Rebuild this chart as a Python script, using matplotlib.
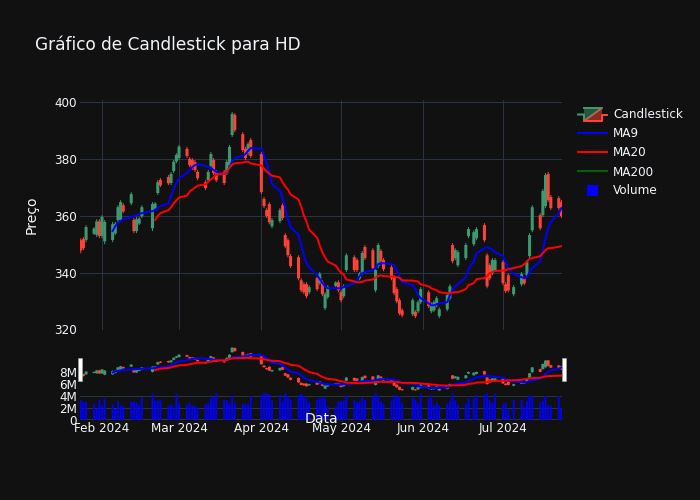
"""
Candlestick chart for HD with MA9 / MA20, volume panel and range slider strip.
"""

import pandas as pd
import matplotlib

matplotlib.use("Agg")
import matplotlib.pyplot as plt
from matplotlib.patches import Polygon, Rectangle


# ---------------------------------------------------------
# Data
# ---------------------------------------------------------
DATES = [
    "2024-01-24", "2024-01-25", "2024-01-26", "2024-01-29", "2024-01-30", "2024-01-31",
    "2024-02-01", "2024-02-02", "2024-02-05", "2024-02-06", "2024-02-07", "2024-02-08", "2024-02-09",
    "2024-02-12", "2024-02-13", "2024-02-14", "2024-02-15", "2024-02-16",
    "2024-02-20", "2024-02-21", "2024-02-22", "2024-02-23",
    "2024-02-26", "2024-02-27", "2024-02-28", "2024-02-29", "2024-03-01",
    "2024-03-04", "2024-03-05", "2024-03-06", "2024-03-07", "2024-03-08",
    "2024-03-11", "2024-03-12", "2024-03-13", "2024-03-14", "2024-03-15",
    "2024-03-18", "2024-03-19", "2024-03-20", "2024-03-21", "2024-03-22",
    "2024-03-25", "2024-03-26", "2024-03-27", "2024-03-28",
    "2024-04-01", "2024-04-02", "2024-04-03", "2024-04-04", "2024-04-05",
    "2024-04-08", "2024-04-09", "2024-04-10", "2024-04-11", "2024-04-12",
    "2024-04-15", "2024-04-16", "2024-04-17", "2024-04-18", "2024-04-19",
    "2024-04-22", "2024-04-23", "2024-04-24", "2024-04-25", "2024-04-26",
    "2024-04-29", "2024-04-30", "2024-05-01", "2024-05-02", "2024-05-03",
    "2024-05-06", "2024-05-07", "2024-05-08", "2024-05-09", "2024-05-10",
    "2024-05-13", "2024-05-14", "2024-05-15", "2024-05-16", "2024-05-17",
    "2024-05-20", "2024-05-21", "2024-05-22", "2024-05-23", "2024-05-24",
    "2024-05-28", "2024-05-29", "2024-05-30", "2024-05-31",
    "2024-06-03", "2024-06-04", "2024-06-05", "2024-06-06", "2024-06-07",
    "2024-06-10", "2024-06-11", "2024-06-12", "2024-06-13", "2024-06-14",
    "2024-06-17", "2024-06-18", "2024-06-20", "2024-06-21",
    "2024-06-24", "2024-06-25", "2024-06-26", "2024-06-27", "2024-06-28",
    "2024-07-01", "2024-07-02", "2024-07-03", "2024-07-05",
    "2024-07-08", "2024-07-09", "2024-07-10", "2024-07-11", "2024-07-12",
    "2024-07-15", "2024-07-16", "2024-07-17", "2024-07-18", "2024-07-19",
    "2024-07-22", "2024-07-23",
]

HIGHS = [
    352.1, 352.5, 356.7, 356.0, 358.8, 358.8, 360.2, 358.5, 357.8, 357.8, 363.7, 365.5, 364.4,
    368.3, 359.2, 359.5, 359.5, 363.7, 364.8, 364.8, 372.5, 373.2, 374.3, 375.4, 379.6, 382.0,
    384.9, 384.2, 380.6, 380.3, 379.6, 376.1, 372.5, 376.1, 382.4, 380.3, 376.1, 376.1, 379.6,
    384.9, 396.5, 396.1, 389.4, 384.2, 385.9, 387.3, 382.4, 366.6, 362.7, 364.8, 359.2, 362.7,
    364.4, 353.9, 352.1, 346.5, 346.1, 338.0, 336.6, 336.6, 335.6, 338.8, 340.2, 337.3, 333.1,
    335.6, 337.0, 337.3, 333.8, 335.9, 346.8, 346.1, 345.1, 340.2, 347.6, 349.7, 348.6, 341.6,
    350.4, 348.3, 345.1, 342.6, 339.1, 334.9, 331.0, 327.5, 331.0, 326.8, 330.3, 334.9, 333.8,
    329.6, 330.3, 331.7, 327.8, 332.8, 335.9, 350.4, 348.6, 347.9, 350.4, 356.0, 354.9, 356.0,
    357.4, 346.8, 343.3, 345.1, 345.1, 344.4, 336.6, 339.8, 335.6, 340.2, 338.4, 344.4, 353.9,
    363.7, 360.9, 369.4, 375.0, 375.4, 367.3, 366.9, 365.5,
]
LOWS = [
    346.8, 347.9, 350.7, 353.2, 352.5, 352.1, 352.1, 350.0, 350.7, 353.2, 357.8, 357.8, 360.9,
    363.7, 353.9, 353.9, 356.7, 359.2, 354.6, 362.0, 367.3, 370.1, 370.8, 370.8, 375.0, 378.5,
    379.6, 380.3, 377.1, 376.1, 375.4, 372.5, 369.0, 371.8, 376.8, 374.3, 371.8, 370.8, 374.3,
    377.1, 387.7, 389.4, 382.4, 379.6, 381.3, 380.3, 367.6, 362.7, 359.2, 357.0, 355.6, 357.4,
    358.5, 348.6, 345.4, 341.6, 337.3, 333.1, 332.4, 331.0, 332.4, 333.5, 335.6, 331.7, 326.8,
    330.7, 334.9, 333.1, 329.6, 331.0, 340.2, 340.2, 340.2, 337.3, 339.1, 344.4, 340.9, 333.1,
    341.6, 343.3, 340.5, 337.3, 332.1, 329.2, 325.0, 324.3, 324.7, 324.0, 325.7, 328.9, 327.5,
    325.7, 326.1, 327.8, 324.0, 326.4, 330.3, 343.3, 344.4, 341.9, 344.4, 352.1, 349.3, 351.4,
    350.7, 334.5, 337.3, 339.1, 340.2, 335.6, 332.8, 333.1, 331.7, 335.2, 335.6, 338.4, 345.1,
    354.2, 354.9, 359.5, 362.7, 364.8, 362.0, 362.0, 359.2,
]
OPENS = [
    351.4, 351.8, 351.5, 353.7, 353.3, 358.0, 352.9, 351.0, 351.5, 353.8, 358.5, 358.5, 363.7,
    364.4, 358.5, 354.6, 357.2, 359.8, 355.6, 362.5, 368.0, 372.6, 373.6, 371.5, 375.7, 379.1,
    380.3, 383.5, 380.0, 379.6, 378.9, 375.4, 371.8, 372.5, 377.5, 379.6, 375.4, 375.4, 375.0,
    377.8, 388.4, 395.4, 388.7, 383.5, 382.0, 386.6, 381.7, 365.9, 362.0, 364.1, 356.3, 358.1,
    363.7, 353.2, 351.4, 345.8, 345.4, 337.3, 335.9, 335.9, 333.1, 338.1, 336.3, 336.6, 327.5,
    331.4, 335.3, 336.6, 333.1, 331.7, 340.9, 345.4, 344.4, 337.9, 339.8, 349.0, 347.9, 333.8,
    342.3, 347.6, 344.4, 341.9, 338.4, 334.2, 330.3, 326.8, 325.4, 326.2, 326.4, 329.6, 333.1,
    326.4, 326.8, 328.5, 324.7, 327.1, 331.0, 349.7, 345.1, 342.6, 345.1, 352.8, 350.0, 352.1,
    356.7, 346.1, 342.6, 339.8, 340.9, 343.7, 335.9, 339.1, 332.4, 335.9, 337.8, 339.1, 345.8,
    354.9, 360.2, 360.2, 363.4, 374.7, 366.6, 366.2, 364.8,
]
CLOSES = [
    347.8, 348.6, 356.0, 355.5, 358.0, 352.9, 359.6, 357.8, 357.0, 357.2, 363.0, 364.8, 361.5,
    367.6, 354.6, 358.8, 359.0, 363.0, 364.1, 364.3, 371.8, 370.7, 371.4, 374.7, 379.0, 381.4,
    384.3, 381.0, 377.8, 376.8, 376.1, 373.2, 369.7, 375.4, 381.7, 375.0, 372.5, 371.5, 378.9,
    384.2, 395.8, 390.1, 383.1, 380.3, 385.2, 381.0, 368.3, 363.4, 359.9, 357.7, 358.5, 362.0,
    359.2, 349.3, 346.1, 342.3, 338.0, 333.8, 333.1, 331.7, 334.9, 334.2, 339.5, 332.4, 332.4,
    334.9, 336.5, 333.8, 330.3, 335.2, 346.1, 340.9, 340.9, 339.6, 346.9, 345.1, 341.6, 340.9,
    349.7, 344.0, 341.2, 338.0, 332.8, 329.9, 325.7, 325.0, 330.3, 324.7, 329.6, 334.2, 328.2,
    328.9, 329.6, 331.0, 327.1, 332.1, 335.2, 344.0, 347.9, 347.2, 349.7, 355.3, 354.2, 355.3,
    351.4, 335.2, 338.0, 344.4, 344.4, 336.3, 333.5, 333.8, 334.9, 339.5, 336.2, 343.7, 353.2,
    363.0, 355.6, 368.7, 374.3, 365.5, 362.7, 362.7, 359.9,
]

# volume in millions of shares
VOLUME = [
    3.3, 2.9, 3.0, 2.7, 1.9, 3.3, 2.4, 3.6, 2.6, 1.8, 3.2, 2.4, 2.3, 3.1, 3.1, 2.9, 2.5, 3.8,
    4.4, 3.2, 3.2, 3.3, 2.4, 2.6, 2.1, 4.3, 2.8, 2.6, 2.9, 2.4, 2.3, 2.1, 2.7, 2.8, 3.7, 3.8,
    4.4, 3.3, 3.3, 2.7, 4.1, 2.8, 2.7, 2.7, 2.5, 4.0, 4.2, 4.4, 4.4, 4.3, 3.2, 4.2, 3.1, 4.4,
    4.1, 3.4, 4.1, 4.3, 4.1, 3.6, 2.9, 3.4, 3.6, 3.9, 3.6, 2.3, 2.2, 3.1, 3.1, 3.2, 4.1, 3.3,
    2.9, 3.1, 3.7, 3.3, 3.9, 4.4, 4.1, 3.1, 2.7, 3.2, 4.2, 3.9, 4.0, 2.8, 3.7, 3.4, 2.8, 4.4,
    3.6, 4.2, 2.4, 2.9, 2.4, 2.7, 3.2, 4.4, 3.3, 2.5, 2.7, 3.6, 3.6, 4.2, 4.2, 4.4, 3.3, 2.9,
    4.4, 2.6, 2.9, 1.7, 3.3, 3.4, 2.2, 3.2, 4.1, 4.0, 2.9, 3.2, 4.0, 2.4, 2.4, 4.0, 2.1,
]

# MA9 starts on the 9th session, MA20 on the 20th
MA9 = [
    354.6, 356.4, 357.4, 358.1, 358.8, 359.5, 359.9, 360.2, 360.6, 360.9, 361.6, 362.0, 362.7,
    363.4, 364.4, 366.9, 369.4, 371.5, 373.2, 375.0, 376.1, 377.1, 377.8, 378.2, 377.5, 377.1,
    376.8, 376.1, 375.4, 374.7, 375.4, 376.8, 379.2, 380.3, 381.0, 381.7, 382.8, 383.8, 383.5,
    381.3, 378.5, 374.7, 371.1, 368.7, 366.2, 362.7, 358.8, 356.0, 353.2, 349.7, 346.1, 343.3,
    341.9, 339.1, 337.7, 336.3, 335.2, 334.5, 334.5, 334.5, 334.5, 334.9, 335.2, 336.3, 337.3,
    338.8, 339.8, 340.2, 340.9, 341.6, 343.0, 343.3, 343.3, 343.0, 342.6, 340.9, 338.8, 336.6,
    335.6, 334.2, 332.1, 331.0, 329.2, 328.5, 328.5, 328.9, 329.2, 329.6, 332.1, 333.8, 335.2,
    335.9, 338.4, 341.2, 344.0, 346.8, 348.6, 349.0, 348.6, 347.9, 347.2, 345.8, 343.7, 341.6,
    339.5, 338.4, 338.0, 338.4, 340.2, 341.6, 344.0, 348.2, 352.1, 355.6, 357.8, 360.9, 362.7,
]
MA20 = [
    358.5, 359.9, 360.9, 362.0, 363.0, 364.4, 365.4, 366.4, 367.1, 368.5, 369.2, 369.9, 370.6,
    371.0, 372.0, 372.8, 373.5, 374.5, 374.8, 375.5, 376.9, 378.0, 378.4, 378.7, 378.9, 379.0,
    378.4, 377.7, 376.6, 375.5, 374.8, 374.1, 373.5, 371.7, 370.3, 369.2, 367.5, 365.7, 363.2,
    360.1, 357.9, 355.1, 352.3, 349.5, 347.0, 345.3, 343.9, 342.5, 341.1, 340.0, 339.3, 337.6,
    336.9, 336.6, 336.6, 336.7, 337.2, 337.6, 338.3, 338.8, 339.0, 338.8, 338.6, 338.6, 338.4,
    338.2, 337.3, 337.2, 337.0, 336.9, 335.9, 335.2, 334.5, 334.1, 333.8, 333.1, 332.8, 332.8,
    333.0, 333.1, 333.1, 334.2, 335.6, 336.3, 337.7, 338.1, 338.8, 339.8, 340.2, 340.6, 340.7,
    340.9, 341.2, 341.6, 342.3, 343.0, 344.0, 344.8, 345.1, 345.8, 346.8, 347.9, 348.6, 348.6,
    349.1, 349.3,
]

MA9_START = 8
MA20_START = 19

# x range of the time axis
X_START = "2024-01-23 17:00"
X_END = "2024-07-23 05:00"

MONTH_TICKS = ["2024-02-01", "2024-03-01", "2024-04-01", "2024-05-01", "2024-06-01", "2024-07-01"]
MONTH_LABELS = ["Feb 2024", "Mar 2024", "Apr 2024", "May 2024", "Jun 2024", "Jul 2024"]
PRICE_TICKS = [320, 340, 360, 380, 400]
VOLUME_TICKS = [0, 2, 4, 6, 8]
VOLUME_LABELS = ["0", "2M", "4M", "6M", "8M"]


# ---------------------------------------------------------
# Style
# ---------------------------------------------------------
BG = "#111111"
GRID = "#283442"
TEXT = "#f2f5fa"
UP = "#3d9970"
DOWN = "#ff4136"
BLUE = "#0000ff"
RED = "#ff0000"
DARK_GREEN = "#006400"
PX = 0.72  # one pixel in points at dpi 100


def px_axes(fig, left, top, right, bottom):
    return fig.add_axes([left / 700, 1 - bottom / 500, (right - left) / 700, (bottom - top) / 500])


def draw_candles(ax, dates):
    up = [c >= o for o, c in zip(OPENS, CLOSES)]
    colors = [UP if u else DOWN for u in up]
    body_low = [min(o, c) for o, c in zip(OPENS, CLOSES)]
    body_h = [abs(c - o) for o, c in zip(OPENS, CLOSES)]
    wicks = ax.vlines(dates, LOWS, HIGHS, colors=colors, linewidth=PX, zorder=2)
    wicks.set_snap(False)
    bodies = ax.bar(dates, body_h, bottom=body_low, width=1.15, color=colors, linewidth=0, zorder=2)
    for body in bodies:
        body.set_snap(False)


def draw_ma(ax, dates):
    ax.plot(dates[MA9_START:], MA9, color=BLUE, linewidth=2 * PX, zorder=3)
    ax.plot(dates[MA20_START:], MA20, color=RED, linewidth=2 * PX, zorder=4)


def draw_overlay(fig):
    # pixel canvas for legend and slider handles
    ov = fig.add_axes([0, 0, 1, 1], zorder=10)
    ov.set_xlim(0, 700)
    ov.set_ylim(500, 0)
    ov.axis("off")
    ov.patch.set_alpha(0)

    ov.add_patch(Polygon([(584, 108), (602, 108), (584, 121)], closed=True,
                         facecolor=UP, alpha=0.5, edgecolor="none"))
    ov.add_patch(Polygon([(602, 108), (602, 121), (584, 121)], closed=True,
                         facecolor=DOWN, alpha=0.5, edgecolor="none"))
    ov.plot([578, 584, 584, 602, 584], [114.5, 114.5, 121, 108, 108], color=UP, lw=2 * PX)
    ov.plot([584, 602, 602, 607], [121, 121, 114.5, 114.5], color=DOWN, lw=2 * PX)
    ov.plot([602, 584], [108, 121], color=DOWN, lw=PX)

    ov.plot([578, 607], [133, 133], color=BLUE, lw=2 * PX)
    ov.plot([578, 607], [152, 152], color=RED, lw=2 * PX)
    ov.plot([578, 607], [171, 171], color=DARK_GREEN, lw=2 * PX)
    ov.add_patch(Rectangle((587, 185), 11, 11, facecolor=BLUE, edgecolor="none"))

    for label, y in zip(["Candlestick", "MA9", "MA20", "MA200", "Volume"], [114.5, 133.5, 152.5, 172, 191]):
        ov.text(613, y, label, color=TEXT, fontsize=12 * PX, va="center", ha="left")

    # range slider handles
    ov.add_patch(Rectangle((78, 358), 3.5, 23, facecolor="white", edgecolor="#aaaaaa", lw=0.4))
    ov.add_patch(Rectangle((562, 358), 3.5, 23, facecolor="white", edgecolor="#aaaaaa", lw=0.4))

    ov.text(321, 419, "Data", color=TEXT, fontsize=14 * PX, va="center", ha="center")


# ---------------------------------------------------------
# Main
# ---------------------------------------------------------
def main():
    plt.rcParams["font.family"] = ["DejaVu Sans"]

    dates = pd.to_datetime(DATES)
    x_lim = (pd.Timestamp(X_START), pd.Timestamp(X_END))
    month_ticks = pd.to_datetime(MONTH_TICKS)

    fig = plt.figure(figsize=(7, 5), dpi=100, facecolor=BG)

    # price panel: 400 sits at y=102 and 320 at y=329.5
    ax = px_axes(fig, 80, 100, 562, 329.5)
    ax.set_facecolor(BG)
    draw_candles(ax, dates)
    draw_ma(ax, dates)
    ax.set_xlim(*x_lim)
    ax.set_ylim(320, 400.7)
    ax.set_yticks(PRICE_TICKS)
    ax.set_xticks(month_ticks)
    ax.set_xticklabels([])
    ax.grid(True, color=GRID, linewidth=PX)
    ax.set_axisbelow(True)
    ax.yaxis.get_gridlines()[0].set_visible(False)
    ax.tick_params(length=0, colors=TEXT, labelsize=12 * PX, pad=2.2)
    ax.set_ylabel("Preço", color=TEXT, fontsize=14 * PX)
    ax.yaxis.set_label_coords((39 - 80) / 482, 0.5)
    for spine in ax.spines.values():
        spine.set_visible(False)

    # volume panel: 6 px per million, zero at y=420
    low = px_axes(fig, 80, 346, 562, 420)
    low.set_facecolor(BG)
    bars = low.bar(dates, VOLUME, width=0.72, color=BLUE, linewidth=0, zorder=2)
    for bar in bars:
        bar.set_snap(False)
    low.set_xlim(*x_lim)
    low.set_ylim(0, 74 / 6)
    low.set_yticks(VOLUME_TICKS)
    low.set_yticklabels(VOLUME_LABELS)
    low.set_xticks(month_ticks)
    low.set_xticklabels(MONTH_LABELS)
    low.grid(True, axis="y", color=GRID, linewidth=PX)
    low.set_axisbelow(True)
    gridlines = low.yaxis.get_gridlines()
    gridlines[0].set_linewidth(2 * PX)
    gridlines[3].set_visible(False)
    gridlines[4].set_visible(False)
    low.tick_params(axis="y", length=0, colors=TEXT, labelsize=12 * PX, pad=2.2)
    low.tick_params(axis="x", length=0, colors=TEXT, labelsize=12 * PX, pad=1.5)
    for spine in low.spines.values():
        spine.set_visible(False)

    # range slider strip, same rows as the volume panel
    mini = px_axes(fig, 80, 346, 562, 420)
    mini.patch.set_alpha(0)
    draw_candles(mini, dates)
    draw_ma(mini, dates)
    mini.set_xlim(*x_lim)
    mini.set_ylim(275.3, 398.7)
    mini.axis("off")

    fig.text(35 / 700, 1 - 45 / 500, "Gráfico de Candlestick para HD", color=TEXT,
             fontsize=17 * PX, va="center", ha="left")

    draw_overlay(fig)

    fig.savefig("out.png", dpi=100, facecolor=BG)
    plt.close(fig)


if __name__ == "__main__":
    main()
